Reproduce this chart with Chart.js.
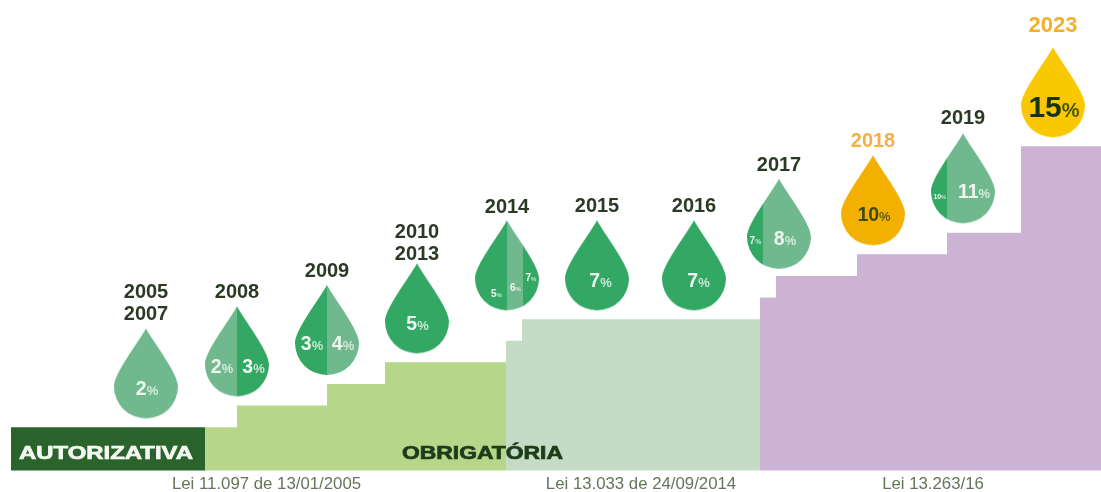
<!DOCTYPE html>
<html><head><meta charset="utf-8">
<style>html,body{margin:0;padding:0;background:#fff}canvas{display:block;filter:blur(0.6px)}</style>
<script src="https://cdn.jsdelivr.net/npm/chart.js@4"></script>
</head><body><canvas id="c" width="1101" height="492"></canvas>
<script>
// ---- data ----
const stepAutorizativaX = [11, 205];
const stepAutorizativaY = [2, 2];
const stepObrigatoriaX = [205, 237, 327, 385, 506];
const stepObrigatoriaY = [2, 3, 4, 5, 5];
const stepLei13033X = [506, 522, 760];
const stepLei13033Y = [6, 7, 7];
const stepLei13263X = [760, 776, 857, 947, 1021, 1101];
const stepLei13263Y = [8, 9, 10, 11, 15, 15];

const dropYears = [['2005','2007'],['2008'],['2009'],['2010','2013'],['2014'],['2015'],['2016'],['2017'],['2018'],['2019'],['2023']];
const dropValues = [[2],[2,3],[3,4],[5],[5,6,7],[7],[7],[7,8],[10],[10,11],[15]];
const dropX = [146, 237, 327, 417, 507, 597, 694, 779, 873, 963, 1053];
const dropLevel = [4.49, 5.51, 6.50, 7.50, 9.49, 9.49, 9.49, 11.41, 12.5, 13.52, 17.5];

const phaseLabels = ['AUTORIZATIVA', 'OBRIGATÓRIA'];
const lawLabels = ['Lei 11.097 de 13/01/2005', 'Lei 13.033 de 24/09/2014', 'Lei 13.263/16'];

// ---- styling and layout ----
const DARK = '#33a864', LIGHT = '#70b98f', ORANGE = '#f4b000', YELLOW = '#fac800';
const FONT = '"Liberation Sans", Arial, sans-serif';
const bands = [
  [[-40,40,LIGHT]],
  [[-40,0,LIGHT],[0,40,DARK]],
  [[-40,0,DARK],[0,40,LIGHT]],
  [[-40,40,DARK]],
  [[-40,0,DARK],[0,16,LIGHT],[16,40,DARK]],
  [[-40,40,DARK]],
  [[-40,40,DARK]],
  [[-40,-16,DARK],[-16,40,LIGHT]],
  [[-40,40,ORANGE]],
  [[-40,-16,DARK],[-16,40,LIGHT]],
  [[-40,40,YELLOW]]
];
// per value: centre offset x, baseline offset y, digit size, percent size
const W='#eef6ee', OL='#3f4a12', DK='#17340f';
const inner = [
  [[1,22,19.5,13,W]],
  [[-15,21.7,19.5,13,W],[16.5,21.7,19.5,13,W]],
  [[-15,20.5,19.5,13,W],[16,20.5,19.5,13,W]],
  [[0.5,22,19.5,13,W]],
  [[-10.5,32,10,6,W],[8.5,26,10,6,W],[24,16,10,6,W]],
  [[3.5,22,19.5,13,W]],
  [[4.5,22,19.5,13,W]],
  [[-23.5,20.5,10,7,W],[6,21.5,19.5,13,W]],
  [[1,21,19.5,13,OL]],
  [[-23.5,21,7,5,W],[11,20,19.5,13,W]],
  [[1,25,30,20,DK]]
];
const yearColor = ['#2b3a24','#2b3a24','#2b3a24','#2b3a24','#2b3a24','#2b3a24','#2b3a24','#2b3a24','#f4b044','#2b3a24','#f4b02c'];
const yearBase = [-75,-53,-53,-70,-52.5,-53,-53,-52.5,-53,-54,-60];
const yearSize = [20,20,20,20,20,20,20,20,20,20,22];

function makeDrop(b){
  const c = document.createElement('canvas');
  c.width = 72; c.height = 96;
  const g = c.getContext('2d');
  g.translate(36, 48);
  const r = 32, cy = 13;
  g.beginPath();
  g.moveTo(0, -45);
  // one continuous curve from the tip into the round belly
  g.bezierCurveTo(9, -29, 32, 0, 32, 13);
  g.arc(0, cy, r, 0, Math.PI);
  g.bezierCurveTo(-32, 0, -9, -29, 0, -45);
  g.closePath();
  g.clip();
  b.forEach(([x0,x1,col]) => { g.fillStyle = col; g.fillRect(x0, -48, x1-x0, 96); });
  return c;
}

function pts(xs, ys){ return xs.map((x,i)=>({x, y:ys[i]})); }
function area(xs, ys, col){
  return {type:'line', data:pts(xs,ys), stepped:'before', fill:'origin', backgroundColor:col,
          borderWidth:0, borderColor:col, pointRadius:0, tension:0};
}

const textPlugin = {
  id:'texts',
  afterDatasetsDraw(chart){
    const ctx = chart.ctx, sx = chart.scales.x, sy = chart.scales.y;
    ctx.save();
    ctx.textBaseline = 'alphabetic';
    dropX.forEach((x,i)=>{
      const px = sx.getPixelForValue(x), py = sy.getPixelForValue(dropLevel[i]);
      // years above the drop
      ctx.font = `bold ${yearSize[i]}px ${FONT}`;
      ctx.textAlign = 'center';
      ctx.fillStyle = yearColor[i];
      dropYears[i].forEach((yr,k)=> ctx.fillText(yr, px, py + yearBase[i] + k*22));
      // values inside the drop
      dropValues[i].forEach((v,k)=>{
        const [dx,dy,fd,fp,col] = inner[i][k];
        ctx.fillStyle = col;
        ctx.textAlign = 'left';
        ctx.font = `bold ${fd}px ${FONT}`;
        const wd = ctx.measureText(String(v)).width;
        ctx.font = `bold ${fp}px ${FONT}`;
        const wp = ctx.measureText('%').width;
        const left = px + dx - (wd+wp)/2;
        ctx.font = `bold ${fd}px ${FONT}`;
        ctx.fillText(String(v), left, py + dy);
        ctx.font = `bold ${fp}px ${FONT}`;
        ctx.globalAlpha = 0.8;
        ctx.fillText('%', left + wd, py + dy);
        ctx.globalAlpha = 1;
      });
    });
    // phase captions, stretched wide like the original lettering
    const wide = (t, x, w, y, col) => {
      ctx.save();
      ctx.font = `bold 18px ${FONT}`;
      ctx.textAlign = 'left';
      const m = ctx.measureText(t).width;
      ctx.translate(x, y); ctx.scale(w/m, 1);
      ctx.fillStyle = col; ctx.strokeStyle = col; ctx.lineWidth = 0.7;
      ctx.fillText(t, 0, 0); ctx.strokeText(t, 0, 0);
      ctx.restore();
    };
    const by = sy.getPixelForValue(0);
    wide(phaseLabels[0], sx.getPixelForValue(19), 174, by - 11.5, '#f4f8f2');
    wide(phaseLabels[1], sx.getPixelForValue(402), 161, by - 11.5, '#1d3d1a');
    // law captions
    ctx.fillStyle = '#66745a';
    ctx.textAlign = 'center';
    ctx.font = `16.8px ${FONT}`;
    [266.5, 641, 933].forEach((x,i)=> ctx.fillText(lawLabels[i], sx.getPixelForValue(x), by + 19));
    ctx.restore();
  }
};

new Chart(document.getElementById('c'), {
  data:{datasets:[
    {type:'line', showLine:false, data:pts(dropX,dropLevel),
     pointStyle:bands.map(makeDrop), pointRadius:32, pointHoverRadius:32, borderWidth:0},
    area(stepAutorizativaX, stepAutorizativaY, '#2a632c'),
    area(stepObrigatoriaX, stepObrigatoriaY, '#b6d68a'),
    area(stepLei13033X, stepLei13033Y, '#c4dcc6'),
    area(stepLei13263X, stepLei13263Y, '#ccb3d3')
  ]},
  options:{
    responsive:false, animation:false, events:[],
    layout:{padding:0, autoPadding:false},
    plugins:{legend:{display:false}, tooltip:{enabled:false}},
    scales:{
      x:{type:'linear', min:0, max:1101, display:false},
      y:{type:'linear', min:-1.0, max:21.77, display:false}
    }
  },
  plugins:[textPlugin]
});
</script></body></html>
